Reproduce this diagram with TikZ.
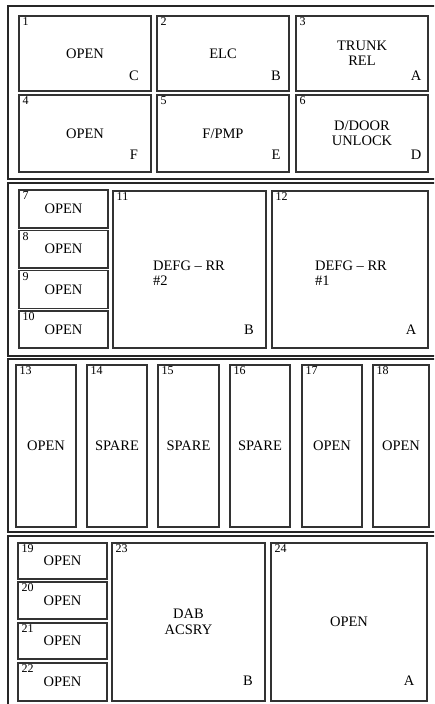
\documentclass[tikz,border=0pt]{standalone}
\usepackage{fontspec}
\setmainfont{Liberation Serif}
\begin{document}
\begin{tikzpicture}[x=1pt,y=-1pt,
  panel/.style={draw=black!85,line width=1.6pt},
  fbox/.style={draw=black!80,line width=1.2pt,rectangle,inner sep=0pt,
    font=\fontsize{14.5}{15.5}\selectfont,align=center},
  num/.style={inner sep=1.5pt,font=\fontsize{12}{12}\selectfont},
  pin/.style={inner sep=0pt,font=\fontsize{14.5}{15.5}\selectfont}]
\useasboundingbox (0,0) rectangle (434,704);
\clip (0,0) rectangle (434,704);
\newcommand\fusebox[7]{%
  \node[fbox,minimum width={#4-#2},minimum height={#5-#3}] (#1) at ({(#2+#4)/2},{(#3+#5)/2}) {#7};
  \node[num,anchor=north west] (#1n) at (#2+2,#3) {#6};}
% panels
\draw[panel] (8,6) rectangle (450,179);
\draw[panel] (8,183) rectangle (450,356);
\draw[panel] (8,359) rectangle (450,532);
\draw[panel] (8,536) rectangle (450,720);
% panel 1
\fusebox{f1}{19}{16}{151}{91}{1}{OPEN}
\fusebox{f2}{157}{16}{289}{91}{2}{ELC}
\fusebox{f3}{296}{16}{428}{91}{3}{TRUNK\\REL}
\fusebox{f4}{19}{95}{151}{172}{4}{OPEN}
\fusebox{f5}{157}{95}{289}{172}{5}{F/PMP}
\fusebox{f6}{296}{95}{428}{172}{6}{D/DOOR\\UNLOCK}
\node[pin] (p1) at (134,76) {C};
\node[pin] (p2) at (276,76) {B};
\node[pin] (p3) at (416,76) {A};
\node[pin] (p4) at (134,155) {F};
\node[pin] (p5) at (276,155) {E};
\node[pin] (p6) at (416,155) {D};
% panel 2
\fusebox{f7}{19}{190}{108}{228}{7}{OPEN}
\fusebox{f8}{19}{230.5}{108}{268}{8}{OPEN}
\fusebox{f9}{19}{270.5}{108}{308.5}{9}{OPEN}
\fusebox{f10}{19}{311}{108}{348}{10}{OPEN}
\fusebox{f11}{113}{191}{266}{348}{11}{}
\fusebox{f12}{272}{191}{428}{348}{12}{}
\node[pin,align=left] (t11) at (189,273) {DEFG – RR\\\#2};
\node[pin,align=left] (t12) at (351,273) {DEFG – RR\\\#1};
\node[pin] (p11) at (249,330) {B};
\node[pin] (p12) at (411,330) {A};
% panel 3
\fusebox{f13}{16}{365}{76}{527}{13}{OPEN}
\fusebox{f14}{87}{365}{147}{527}{14}{SPARE}
\fusebox{f15}{158}{365}{219}{527}{15}{SPARE}
\fusebox{f16}{230}{365}{290}{527}{16}{SPARE}
\fusebox{f17}{302}{365}{362}{527}{17}{OPEN}
\fusebox{f18}{373}{365}{429}{527}{18}{OPEN}
% panel 4
\fusebox{f19}{18}{543}{107}{579}{19}{OPEN}
\fusebox{f20}{18}{582}{107}{619}{20}{OPEN}
\fusebox{f21}{18}{623}{107}{659}{21}{OPEN}
\fusebox{f22}{18}{663}{107}{701}{22}{OPEN}
\fusebox{f23}{112}{543}{265}{701}{23}{DAB\\ACSRY}
\fusebox{f24}{271}{543}{427}{701}{24}{OPEN}
\node[pin] (p23) at (248,681) {B};
\node[pin] (p24) at (409,681) {A};
\end{tikzpicture}
\end{document}
